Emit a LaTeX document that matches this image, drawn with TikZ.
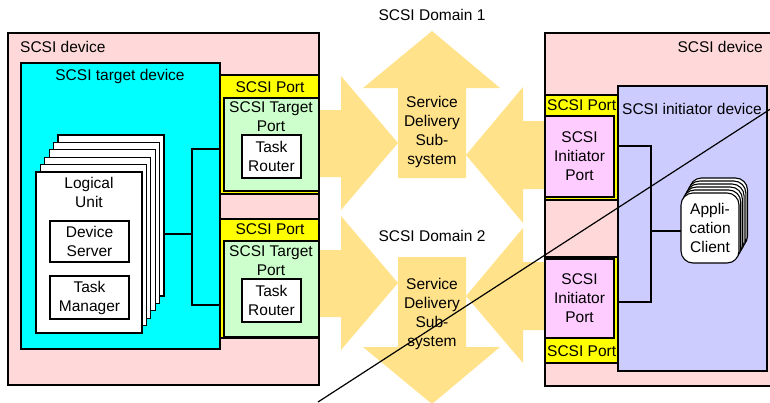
\documentclass[tikz,border=0pt]{standalone}
\usepackage{fontspec}
\setmainfont{Liberation Sans}
\usetikzlibrary{calc}
\definecolor{devpink}{RGB}{255,217,217}
\definecolor{tgtcyan}{RGB}{0,255,255}
\definecolor{portyellow}{RGB}{255,255,0}
\definecolor{tgtgreen}{RGB}{204,255,204}
\definecolor{initpink}{RGB}{255,204,255}
\definecolor{initblue}{RGB}{204,204,255}
\definecolor{sdsgold}{RGB}{255,226,138}

\begin{document}
\begin{tikzpicture}[x=1pt, y=-1pt, font=\fontsize{15.5}{19}\selectfont,
  box/.style={draw, anchor=north west, inner sep=0pt, outer sep=0pt, align=center, line width=1.1pt},
  frame/.style={box, line width=2.5pt},
  lbl/.style={inner sep=0pt, align=center},
  sds/.style={fill=sdsgold, draw=none}]
  \useasboundingbox (0,0) rectangle (770,402);
  \def\pw{106}
  \def\ph{161}

  % service delivery subsystems
  \fill[sds] (315,110) -- (341,110) -- (341,76) -- (398,143) -- (341,210) -- (341,177) -- (315,177) -- cycle;
  \fill[sds] (398,178) -- (398,88) -- (363,88) -- (432,31) -- (500,88) -- (466,88) -- (466,178) -- cycle;
  \fill[sds] (550,121) -- (523,121) -- (523,87) -- (466,155) -- (523,223) -- (523,189) -- (550,189) -- cycle;
  \fill[sds] (315,250) -- (341,250) -- (341,216) -- (398,283) -- (341,350) -- (341,317) -- (315,317) -- cycle;
  \fill[sds] (550,262) -- (523,262) -- (523,228) -- (466,296) -- (523,363) -- (523,330) -- (550,330) -- cycle;
  \fill[sds] (398,257) -- (466,257) -- (466,347) -- (500,347) -- (432,404) -- (363,347) -- (398,347) -- cycle;
  \node[lbl] (dom1) at (432,15) {SCSI Domain 1};
  \node[lbl] (dom2) at (432,236) {SCSI Domain 2};
  \node[lbl] (sds1) at (432,132) {Service\\Delivery\\Sub-\\system};
  \node[lbl] (sds2) at (432,314) {Service\\Delivery\\Sub-\\system};

  % target side
  \node[frame, fill=devpink, minimum width=311, minimum height=352] (ldev) at (8,33) {};
  \node[lbl, anchor=west] (ldevlbl) at (20,47) {SCSI device};
  \node[frame, fill=tgtcyan, minimum width=199, minimum height=286] (tdev) at (21,63) {};
  \node[lbl] (tdevlbl) at (120,76) {SCSI target device};

  \foreach \i in {5,...,1}
    \node[box, fill=white, minimum width=\pw, minimum height=\ph] (lu\i) at ($(36,172) + (4.4*\i,-7.4*\i)$) {};
  \node[box, fill=white, minimum width=\pw, minimum height=\ph] (lu) at (36,172) {};
  \node[lbl] (lulbl) at (89,192) {Logical\\Unit};
  \node[box, minimum width=79, minimum height=41] (devsrv) at (50,221) {Device\\Server};
  \node[box, minimum width=79, minimum height=43] (taskmgr) at (50,276) {Task\\Manager};

  \node[box, fill=portyellow, minimum width=99, minimum height=119] (tport1) at (220,75) {};
  \node[lbl] at (270,87) {SCSI Port};
  \node[frame, fill=tgtgreen, minimum width=95, minimum height=93] (tgt1) at (224,98) {};
  \node[lbl] at (271,117) {SCSI Target\\Port};
  \node[box, fill=white, minimum width=59, minimum height=43] (router1) at (242,135) {Task\\Router};

  \node[box, fill=portyellow, minimum width=99, minimum height=119] (tport2) at (220,219) {};
  \node[lbl] at (270,229) {SCSI Port};
  \node[frame, fill=tgtgreen, minimum width=95, minimum height=96] (tgt2) at (224,241) {};
  \node[lbl] at (271,261) {SCSI Target\\Port};
  \node[box, fill=white, minimum width=59, minimum height=43] (router2) at (242,279) {Task\\Router};

  \draw[line width=1.1pt] (lu5.east |- 0,234) -- (192,234);
  \draw[line width=1.1pt] (tport1.west |- 0,149) -| (192,305) -- (tport2.west |- 0,305);

  % initiator side
  \node[frame, fill=devpink, minimum width=245, minimum height=353] (rdev) at (545,33) {};
  \node[lbl, anchor=east] (rdevlbl) at (763,47) {SCSI device};

  \node[frame, fill=portyellow, minimum width=73, minimum height=105] (iport1) at (545,95) {};
  \node[lbl, anchor=west] at (547,105) {SCSI Port};
  \node[frame, fill=initpink, minimum width=69, minimum height=81] (init1) at (545,116) {SCSI\\Initiator\\Port};

  \node[frame, fill=portyellow, minimum width=73, minimum height=106] (iport2) at (545,257) {};
  \node[lbl, anchor=west] at (547,351) {SCSI Port};
  \node[frame, fill=initpink, minimum width=69, minimum height=79] (init2) at (545,259) {SCSI\\Initiator\\Port};

  \node[frame, fill=initblue, minimum width=149, minimum height=285] (idev) at (618,86) {};
  \node[lbl, anchor=west] (idevlbl) at (622,109) {SCSI initiator device};

  \foreach \i in {5,...,1}
    \node[box, fill=white, rounded corners=12pt, minimum width=58, minimum height=70] (app\i) at ($(681,193) + (1.7*\i,-3*\i)$) {};
  \node[box, fill=white, rounded corners=12pt, minimum width=58, minimum height=70] (app) at (681,193) {Appli-\\cation\\Client};

  \draw[line width=1.1pt] (iport1.east |- 0,146) -| (651,302) -- (iport2.east |- 0,302);
  \draw[line width=1.1pt] (651,231) -- (app.west |- 0,231);

  % cut line
  \coordinate (cutA) at (318,402);
  \coordinate (cutB) at (772,108);
  \draw[line width=1.2pt] (cutA) -- (cutB);
\end{tikzpicture}
\end{document}
